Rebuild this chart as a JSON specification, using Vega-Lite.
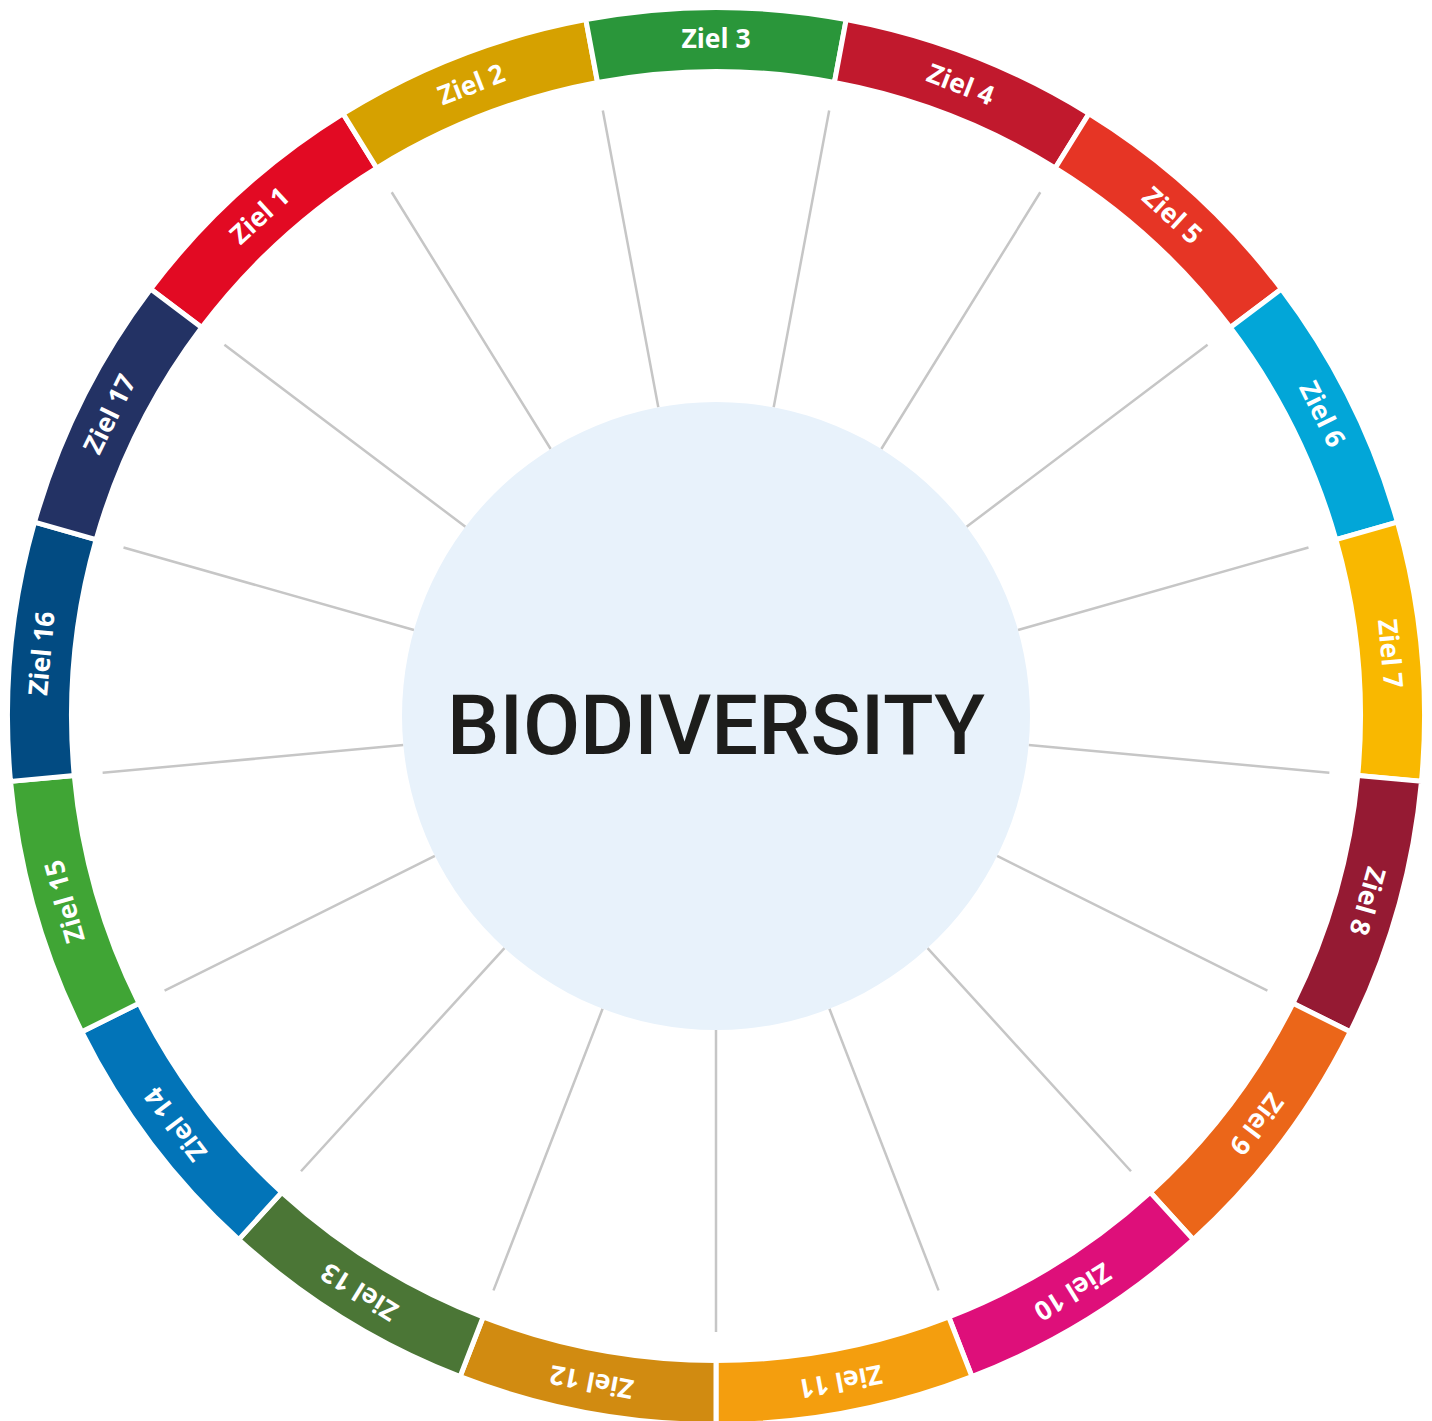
{
  "$schema": "https://vega.github.io/schema/vega-lite/v6.json",
  "width": 1432,
  "height": 1432,
  "padding": 0,
  "autosize": "none",
  "background": "white",
  "config": {"view": {"stroke": null}},
  "datasets": {
    "goals": [
      {"ziel": "Ziel 1", "mid": 317.647, "t0": 307.059, "t1": 328.235},
      {"ziel": "Ziel 2", "mid": 338.824, "t0": 328.235, "t1": 349.412},
      {"ziel": "Ziel 3", "mid": 0, "t0": -10.588, "t1": 10.588},
      {"ziel": "Ziel 4", "mid": 21.176, "t0": 10.588, "t1": 31.765},
      {"ziel": "Ziel 5", "mid": 42.353, "t0": 31.765, "t1": 52.941},
      {"ziel": "Ziel 6", "mid": 63.529, "t0": 52.941, "t1": 74.118},
      {"ziel": "Ziel 7", "mid": 84.706, "t0": 74.118, "t1": 95.294},
      {"ziel": "Ziel 8", "mid": 105.882, "t0": 95.294, "t1": 116.471},
      {"ziel": "Ziel 9", "mid": 127.059, "t0": 116.471, "t1": 137.647},
      {"ziel": "Ziel 10", "mid": 148.235, "t0": 137.647, "t1": 158.824},
      {"ziel": "Ziel 11", "mid": 169.412, "t0": 158.824, "t1": 180},
      {"ziel": "Ziel 12", "mid": 190.588, "t0": 180, "t1": 201.176},
      {"ziel": "Ziel 13", "mid": 211.765, "t0": 201.176, "t1": 222.353},
      {"ziel": "Ziel 14", "mid": 232.941, "t0": 222.353, "t1": 243.529},
      {"ziel": "Ziel 15", "mid": 254.118, "t0": 243.529, "t1": 264.706},
      {"ziel": "Ziel 16", "mid": 275.294, "t0": 264.706, "t1": 285.882},
      {"ziel": "Ziel 17", "mid": 296.471, "t0": 285.882, "t1": 307.059}
    ],
    "spokes": [
      {"a": 10.588}, {"a": 31.765}, {"a": 52.941}, {"a": 74.118}, {"a": 95.294},
      {"a": 116.471}, {"a": 137.647}, {"a": 158.824}, {"a": 180}, {"a": 201.176},
      {"a": 222.353}, {"a": 243.529}, {"a": 264.706}, {"a": 285.882}, {"a": 307.059},
      {"a": 328.235}, {"a": 349.412}
    ],
    "center": [{"label": "BIODIVERSITY"}]
  },
  "layer": [
    {
      "data": {"name": "goals"},
      "mark": {"type": "arc", "radius": 708.5, "radius2": 644.5, "stroke": "white", "strokeWidth": 5},
      "encoding": {
        "theta": {"field": "t0", "type": "quantitative", "stack": false, "scale": {"domain": [0, 360], "range": [0, 6.283185307]}},
        "theta2": {"field": "t1"},
        "color": {
          "field": "ziel", "type": "nominal", "legend": null,
          "scale": {
            "domain": ["Ziel 1","Ziel 2","Ziel 3","Ziel 4","Ziel 5","Ziel 6","Ziel 7","Ziel 8","Ziel 9","Ziel 10","Ziel 11","Ziel 12","Ziel 13","Ziel 14","Ziel 15","Ziel 16","Ziel 17"],
            "range": ["#E20A23","#D6A100","#2A963A","#C1192D","#E63525","#02A6D8","#F9B800","#951A33","#EB6619","#DE0F7A","#F49E0E","#D18B11","#4B7636","#0274B8","#40A535","#024B82","#233264"]
          }
        }
      }
    },
    {
      "data": {"name": "goals"},
      "mark": {"type": "text", "radius": 676, "font": "Open Sans", "fontWeight": "bold", "fontSize": 26.5, "fill": "white", "align": "center", "baseline": "middle"},
      "encoding": {
        "theta": {"field": "mid", "type": "quantitative", "stack": false, "scale": {"domain": [0, 360], "range": [0, 6.283185307]}},
        "angle": {"field": "mid", "type": "quantitative", "scale": null},
        "text": {"field": "ziel", "type": "nominal"}
      }
    },
    {
      "data": {"name": "spokes"},
      "mark": {"type": "arc", "radius": 616, "radius2": 314, "stroke": "#C6C6C6", "strokeWidth": 2.5, "fill": null},
      "encoding": {
        "theta": {"field": "a", "type": "quantitative", "stack": false, "scale": {"domain": [0, 360], "range": [0, 6.283185307]}},
        "theta2": {"field": "a"}
      }
    },
    {
      "data": {"name": "center"},
      "mark": {"type": "arc", "radius": 314, "theta": 0, "theta2": 6.283185307, "fill": "#E8F2FB"},
      "encoding": {}
    },
    {
      "data": {"name": "center"},
      "mark": {"type": "text", "font": "Roboto", "fontWeight": 500, "fontSize": 83, "fill": "#1D1D1B", "align": "center", "baseline": "alphabetic", "dy": 38},
      "encoding": {"text": {"field": "label", "type": "nominal"}}
    }
  ]
}
